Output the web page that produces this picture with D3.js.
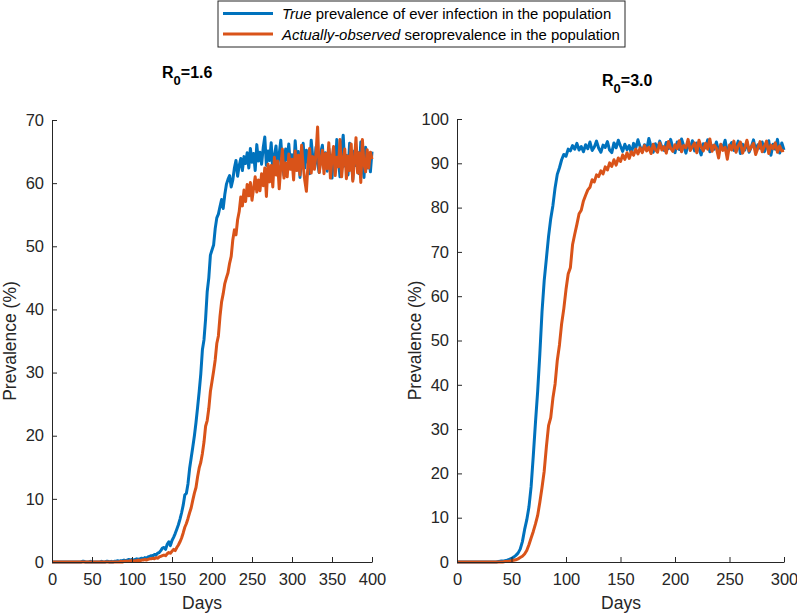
<!DOCTYPE html>
<html><head><meta charset="utf-8">
<script src="https://cdn.jsdelivr.net/npm/d3@7"></script>
<style>
body{margin:0;background:#fff;}
svg{display:block;font-family:"Liberation Sans",Arial,Helvetica,sans-serif;}
</style></head>
<body><svg id="c" width="797" height="615"></svg>
<script>
// ---------- DATA ----------
const seriesNames = ["True", "Actually-observed"];
const legendRest = [" prevalence of ever infection in the population", " seroprevalence in the population"];
const colors = ["#0072BD", "#D95319"];

const leftTitle = {main: "R", sub: "0", rest: "=1.6"};
const rightTitle = {main: "R", sub: "0", rest: "=3.0"};
const leftXTicks = [0,50,100,150,200,250,300,350,400];
const leftYTicks = [0,10,20,30,40,50,60,70];
const rightXTicks = [0,50,100,150,200,250,300];
const rightYTicks = [0,10,20,30,40,50,60,70,80,90,100];

// Left panel (R0=1.6), one value every 2 days, days 0..400
const leftDays = d3.range(0, 401, 2);
const leftTrue = [
 0,0,0,0,0,0,0,0,0,0, 0,0,0,0,0,0,0,0,0,0.1, 0.1,0,0,0,0.1,0,0,0,0,0,
 0,0.1,0,0,0.1,0.1,0,0.1,0,0.1, 0.1,0.2,0.1,0.2,0.2,0.3,0.2,0.3,0.4,0.3,
 0.4,0.3,0.4,0.5,0.4,0.5,0.6,0.5,0.7,0.6, 0.8,0.9,1.0,0.9,1.2,1.1,1.4,1.5,1.8,2.2,
 2.3,2.0,2.8,3.2,2.6,3.4,3.9,4.5,5.2,5.9, 6.8,7.8,9.0,10.6,10.9,12.4,14.8,16.5,18.2,20.0,
 22.1,24.5,27.0,29.8,33.6,35.2,38.5,42.8,45.0,48.6, 49.4,50.2,52.8,54.5,55.1,56.3,57.4,56.0,58.2,59.8,
 60.6,61.2,59.4,60.5,62.4,63.6,61.1,62.8,63.9,62.0, 64.2,63.1,64.8,62.4,65.5,63.3,64.7,62.0,66.1,63.5,
 64.9,63.0,65.6,67.3,62.8,65.1,63.6,66.4,61.8,64.3, 65.9,62.5,64.6,66.8,63.0,61.2,65.4,63.7,66.2,62.9,
 64.5,61.8,66.7,63.2,65.0,60.9,64.1,66.3,62.4,65.2, 63.6,61.5,66.8,64.0,62.6,65.7,63.1,61.7,64.9,66.0,
 62.3,64.8,61.9,65.5,63.3,60.8,64.6,62.1,66.9,63.8, 61.0,65.2,67.6,62.7,64.4,61.3,66.3,63.9,60.6,65.1,
 62.8,64.9,61.5,66.5,63.2,60.9,65.7,62.4,64.6,61.8,65.0
];
const leftObserved = [
 0,0,0,0,0,0,0,0,0,0, 0,0,0,0,0,0,0,0,0,0, 0,0,0,0,0,0,0,0,0,0,
 0,0,0,0,0,0,0,0,0,0, 0,0,0,0.1,0,0.1,0.1,0.1,0.1,0.2,
 0.2,0.1,0.2,0.2,0.3,0.2,0.3,0.3,0.4,0.3, 0.4,0.5,0.5,0.6,0.5,0.7,0.6,0.8,0.9,1.0,
 1.1,1.0,1.3,1.5,1.4,1.7,2.0,1.8,2.3,2.7, 3.2,3.8,4.6,5.5,6.1,6.9,7.8,8.6,9.8,10.9,
 11.8,13.5,14.9,15.8,17.2,19.0,21.5,22.4,24.3,27.0, 28.6,30.2,32.0,34.6,35.8,38.9,41.2,42.5,44.1,45.0,
 45.8,47.3,48.4,51.0,52.6,51.8,54.2,55.5,57.8,56.4, 58.9,57.1,59.8,58.0,60.1,57.3,59.2,61.0,58.6,60.5,
 58.8,61.5,59.6,62.4,57.9,63.0,60.2,62.8,59.4,64.1, 61.3,63.5,59.1,62.6,65.4,60.8,63.2,61.0,64.6,62.2,
 63.8,60.5,65.1,62.0,64.4,61.3,66.0,62.7,60.4,58.7, 63.0,65.5,61.6,64.2,62.2,64.6,68.9,61.7,63.3,65.2,
 61.5,64.7,62.3,66.4,60.8,63.9,65.8,61.2,64.1,62.6, 66.9,61.0,63.7,65.4,60.7,64.3,62.0,66.2,60.3,63.5,
 67.2,61.6,64.8,60.1,66.9,63.0,61.8,65.3,62.4,64.9,63.8
];

// Right panel (R0=3.0), one value every 2 days, days 0..300
const rightDays = d3.range(0, 301, 2);
const rightTrue = [
 0,0,0,0,0,0,0,0,0,0, 0,0,0,0,0,0,0,0,0,0.1,
 0.2,0.2,0.3,0.4,0.6,0.8,1.1,1.5,2.0,2.9, 4.6,7.3,9.5,12.4,17.0,24.0,31.5,38.5,47.0,56.5,
 63.5,68.5,73.5,77.5,80.5,84.5,87.5,89.0,90.8,92.0, 91.6,93.2,92.8,94.0,93.2,94.5,93.0,93.8,92.6,94.2,
 93.3,94.8,92.9,93.7,95.0,93.4,92.5,94.1,93.6,94.9, 93.0,92.4,94.6,93.5,95.2,93.9,92.7,94.3,93.1,94.0,
 92.2,94.5,93.4,95.3,93.7,92.6,94.2,93.0,95.6,93.8, 92.5,94.4,93.2,95.0,93.6,92.9,94.7,93.3,95.4,93.5,
 92.4,94.8,93.1,95.5,93.9,92.3,94.2,93.4,95.1,92.8, 94.6,93.3,91.9,94.4,93.5,95.3,92.6,94.0,93.2,94.8,
 92.7,94.1,93.6,95.2,92.4,93.8,94.7,92.9,93.5,95.0, 92.2,94.3,93.0,94.9,92.5,93.7,95.3,92.8,94.2,93.4,
 94.8,92.6,93.9,95.1,91.8,94.3,93.2,95.4,92.3,94.6,93.0
];
const rightObserved = [
 0,0,0,0,0,0,0,0,0,0, 0,0,0,0,0,0,0,0,0,0,
 0,0,0.1,0.1,0.2,0.3,0.4,0.5,0.7,1.0, 1.3,1.8,2.6,3.9,5.4,6.9,8.6,10.5,13.5,16.8,
 20.5,26.0,30.8,32.6,37.0,40.2,45.5,49.0,53.8,57.2, 61.5,65.0,66.4,71.6,74.0,76.2,78.6,79.4,81.5,82.8,
 84.0,84.6,86.3,85.8,87.4,87.0,88.3,87.6,89.2,88.5, 90.1,89.3,90.8,89.6,91.2,90.4,91.9,90.9,92.4,91.1,
 92.6,91.8,93.2,92.1,93.5,92.4,94.0,92.8,93.6,92.2, 94.3,93.1,92.5,94.6,93.0,93.8,92.3,94.9,93.4,92.7,
 94.2,93.3,95.1,92.6,94.0,93.5,95.4,92.9,93.8,94.6, 92.4,95.2,93.7,92.8,94.5,93.2,95.5,92.7,94.1,93.4,
 91.2,94.3,92.9,93.6,90.9,94.1,93.0,95.0,92.5,93.9, 94.8,92.3,93.5,95.2,92.8,93.7,94.5,92.0,93.4,94.9,
 92.6,93.8,95.0,92.2,94.1,93.3,94.6,92.5,93.9,92.8,92.9
];

const xLabel = "Days";
const yLabel = "Prevalence (%)";

// ---------- DRAW ----------
const svg = d3.select("#c");
const axisColor = "#262626";

function panel(cfg) {
  const x = d3.scaleLinear().domain(cfg.xDomain).range([cfg.left, cfg.right]);
  const y = d3.scaleLinear().domain(cfg.yDomain).range([cfg.bottom, cfg.top]);
  const g = svg.append("g");

  const series = [cfg.trueVals, cfg.obsVals];
  const line = d3.line().x((d, i) => x(cfg.days[i])).y(d => y(d));
  series.forEach((vals, k) => {
    g.append("path").datum(vals)
      .attr("d", line)
      .attr("fill", "none")
      .attr("stroke", colors[k])
      .attr("stroke-width", 3)
      .attr("stroke-linejoin", "round");
  });

  const xa = g.append("g").attr("transform", `translate(0,${cfg.bottom})`)
    .call(d3.axisBottom(x).tickValues(cfg.xTicks).tickSizeInner(-5).tickSizeOuter(0).tickPadding(11));
  const ya = g.append("g").attr("transform", `translate(${cfg.left},0)`)
    .call(d3.axisLeft(y).tickValues(cfg.yTicks).tickSizeInner(-5).tickSizeOuter(0).tickPadding(8));
  [xa, ya].forEach(a => {
    a.selectAll("path.domain").attr("stroke", axisColor).attr("stroke-width", 1);
    a.selectAll(".tick line").attr("stroke", axisColor);
    a.selectAll(".tick text").attr("fill", axisColor).attr("font-size", 16.5)
      .attr("font-family", '"Liberation Sans",Arial,sans-serif');
  });

  g.append("text").attr("x", cfg.xLabelX).attr("y", 609)
    .attr("text-anchor", "middle").attr("font-size", 17.5).attr("fill", axisColor).text(xLabel);
  g.append("text").attr("transform", `translate(${cfg.yLabelX},${(cfg.top + cfg.bottom) / 2}) rotate(-90)`)
    .attr("text-anchor", "middle").attr("font-size", 17.5).attr("fill", axisColor).text(yLabel);

  const t = g.append("text").attr("x", cfg.titleX).attr("y", cfg.titleY)
    .attr("font-weight", "bold").attr("font-size", 16).attr("fill", "#000");
  t.append("tspan").text(cfg.title.main);
  t.append("tspan").attr("font-size", 13).attr("dy", 7).text(cfg.title.sub);
  t.append("tspan").attr("dy", -7).text(cfg.title.rest);
}

panel({xDomain: [0, 400], yDomain: [0, 70], left: 52, right: 372, top: 120, bottom: 562,
  days: leftDays, trueVals: leftTrue, obsVals: leftObserved, xTicks: leftXTicks, yTicks: leftYTicks,
  xLabelX: 202, yLabelX: 16, title: leftTitle, titleX: 162, titleY: 78});
panel({xDomain: [0, 300], yDomain: [0, 100], left: 457, right: 784, top: 119, bottom: 562,
  days: rightDays, trueVals: rightTrue, obsVals: rightObserved, xTicks: rightXTicks, yTicks: rightYTicks,
  xLabelX: 621, yLabelX: 421, title: rightTitle, titleX: 602, titleY: 86});

// Legend
const lg = svg.append("g");
lg.append("rect").attr("x", 218).attr("y", 1).attr("width", 407).attr("height", 46)
  .attr("fill", "#fff").attr("stroke", axisColor).attr("stroke-width", 1);
const rowY = [13.5, 34];
seriesNames.forEach((name, k) => {
  lg.append("line").attr("x1", 223).attr("x2", 273).attr("y1", rowY[k]).attr("y2", rowY[k])
    .attr("stroke", colors[k]).attr("stroke-width", 3);
  const tx = lg.append("text").attr("x", 282).attr("y", rowY[k] + 5.5)
    .attr("font-size", 14.9).attr("fill", "#000");
  tx.append("tspan").attr("font-style", "italic").text(name);
  tx.append("tspan").text(legendRest[k]);
});
</script></body></html>
